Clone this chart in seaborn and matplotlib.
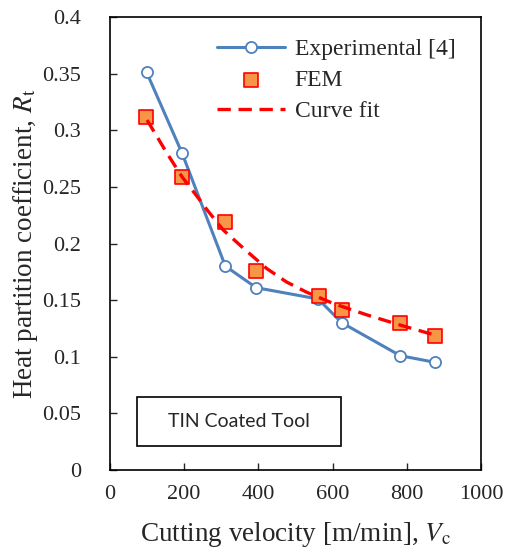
import matplotlib
matplotlib.use("Agg")
import matplotlib.pyplot as plt
import seaborn as sns
import pandas as pd
from matplotlib.patches import Rectangle

# Data
exp_x = [99, 194, 311, 394, 561, 625, 782, 877]
exp_y = [0.351, 0.280, 0.180, 0.161, 0.151, 0.130, 0.101, 0.095]
fem_x = [97, 194, 311, 394, 563, 625, 782, 877]
fem_y = [0.312, 0.259, 0.219, 0.176, 0.154, 0.141, 0.130, 0.118]
fit_x = [100, 153, 194, 243, 261, 305, 359, 422, 476, 530, 602, 692, 782, 877]
fit_y = [0.309, 0.280, 0.259, 0.238, 0.230, 0.212, 0.196, 0.178, 0.166, 0.157,
         0.147, 0.137, 0.128, 0.119]
xticks = [0, 200, 400, 600, 800, 1000]
yticks = [0, 0.05, 0.1, 0.15, 0.2, 0.25, 0.3, 0.35, 0.4]
yticklabels = ["0", "0.05", "0.1", "0.15", "0.2", "0.25", "0.3", "0.35", "0.4"]
labels = ["Experimental [4]", "FEM", "Curve fit"]

sns.set_style("white")
plt.rcParams["font.family"] = ["Liberation Serif", "DejaVu Serif"]
plt.rcParams["mathtext.fontset"] = "stix"

fig = plt.figure(figsize=(5.12, 5.48), dpi=100)
ax = fig.add_axes([0.2148, 0.1423, 0.7247, 0.8267])

sns.lineplot(x=exp_x, y=exp_y, ax=ax, color="#4F81BD", lw=2.2, marker="o",
             markersize=8, markerfacecolor="white", markeredgecolor="#4F81BD",
             markeredgewidth=1.3, label=labels[0], sort=False)
sns.scatterplot(x=fem_x, y=fem_y, ax=ax, marker="s", s=95, color="#F79646",
                edgecolor="#FF0000", linewidth=1.2, label=labels[1], zorder=4)
sns.lineplot(x=fit_x, y=fit_y, ax=ax, color="#FF0000", lw=2.4, label=labels[2],
             sort=False, zorder=5)
ax.lines[-1].set_dashes([4, 2.3])

ax.set_xlim(0, 1000)
ax.set_ylim(0, 0.4)
ax.set_xticks(xticks)
ax.set_yticks(yticks)
ax.set_yticklabels(yticklabels)
ax.tick_params(axis="both", direction="in", length=5, width=1, labelsize=16,
               bottom=True, left=True, top=False, right=False)
ax.tick_params(axis="y", pad=21)
ax.tick_params(axis="x", pad=11)
for s in ax.spines.values():
    s.set_color("black")
    s.set_linewidth(1.2)

ax.set_xlabel("Cutting velocity [m/min], $V$$_\\mathrm{c}$", fontsize=19.5, labelpad=11)
ax.set_ylabel("Heat partition coefficient, $R$$_\\mathrm{t}$", fontsize=19.5, labelpad=1)

leg = ax.legend(loc="upper left", frameon=False, fontsize=17,
                bbox_to_anchor=(0.288, 0.952), handlelength=2.9, labelspacing=0.4,
                borderaxespad=0, borderpad=0, handletextpad=0.4)
for h in leg.get_lines():
    if h.get_linestyle() != "-":
        h.set_dashes([4, 2.3])

ax.add_patch(Rectangle((0.0736, 0.0536), 0.549, 0.1082, transform=ax.transAxes,
                       facecolor="white", edgecolor="black", lw=1.2, zorder=6))
ax.text(0.3481, 0.1077, "TIN Coated Tool", transform=ax.transAxes, ha="center",
        va="center", fontsize=14, family=["Lato", "DejaVu Sans"], zorder=7)

fig.savefig("out.png", dpi=100)
